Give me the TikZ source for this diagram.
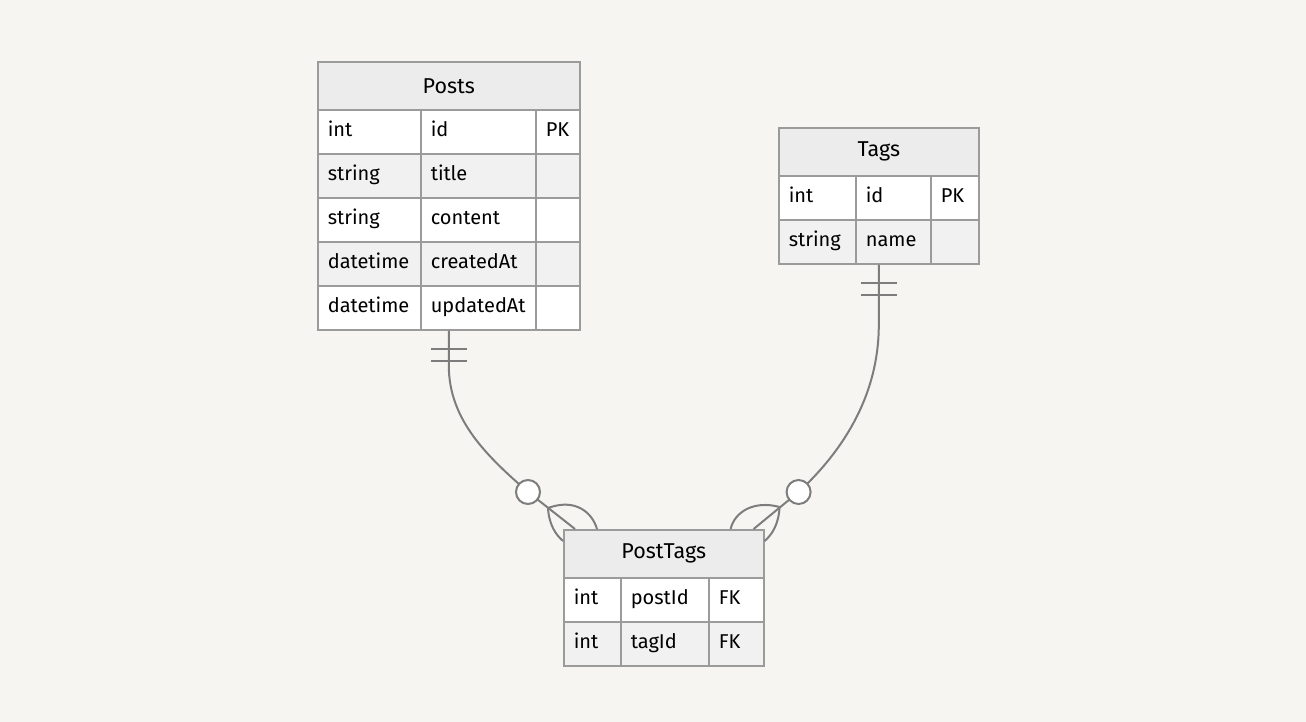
\documentclass[tikz,border=0pt]{standalone}
\usepackage{fontspec}
\setmainfont{Fira Sans}
\usetikzlibrary{calc}
\definecolor{canvas}{HTML}{F6F5F2}
\definecolor{headfill}{HTML}{ECECEC}
\definecolor{oddfill}{HTML}{F1F1F1}
\definecolor{gridline}{HTML}{9B9B9B}
\definecolor{wire}{HTML}{7D7D7D}
\begin{document}
\begin{tikzpicture}[x=1pt, y=-1pt,
  cell/.style={draw=gridline, line width=1.6pt, fill=#1, anchor=north west,
               minimum height=44pt, inner xsep=10pt, inner ysep=0pt, align=left,
               text height=14pt, text depth=4pt, font=\fontsize{20}{24}\selectfont},
  cell/.default=white,
  head/.style={draw=gridline, line width=1.6pt, fill=headfill, anchor=north west,
               minimum height=48pt, inner sep=0pt, font=\fontsize{21.5}{25}\selectfont},
  frame/.style={draw=gridline, line width=1.6pt, anchor=north west, inner sep=0pt},
  rel/.style={draw=wire, line width=2pt},
  ring/.style={draw=wire, line width=2pt, fill=white}
]
  \fill[canvas] (0,0) rectangle (1306,722);

  % Posts
  \node[head, minimum width=262pt] (posts-h) at (317,61) {Posts};
  \foreach \t/\n/\k/\f [count=\i from 0] in {int/id/PK/white, string/title//oddfill,
      string/content//white, datetime/createdAt//oddfill, datetime/updatedAt//white} {
    \node[cell=\f, text width=83pt] (posts-t\i) at (317,109+44*\i) {\t};
    \node[cell=\f, text width=95pt] (posts-n\i) at (420,109+44*\i) {\n};
    \node[cell=\f, text width=24pt] (posts-k\i) at (535,109+44*\i) {\k};
  }
  \node[frame, minimum width=262pt, minimum height=268pt] (posts) at (317,61) {};

  % Tags
  \node[head, minimum width=200pt] (tags-h) at (778,127) {Tags};
  \foreach \t/\n/\k/\f [count=\i from 0] in {int/id/PK/white, string/name//oddfill} {
    \node[cell=\f, text width=57pt] (tags-t\i) at (778,175+44*\i) {\t};
    \node[cell=\f, text width=55pt] (tags-n\i) at (855,175+44*\i) {\n};
    \node[cell=\f, text width=28pt] (tags-k\i) at (930,175+44*\i) {\k};
  }
  \node[frame, minimum width=200pt, minimum height=136pt] (tags) at (778,127) {};

  % PostTags
  \node[head, minimum width=200pt] (ptags-h) at (563,529) {PostTags};
  \foreach \t/\n/\k/\f [count=\i from 0] in {int/postId/FK/white, int/tagId/FK/oddfill} {
    \node[cell=\f, text width=37pt] (ptags-t\i) at (563,577+44*\i) {\t};
    \node[cell=\f, text width=68pt] (ptags-n\i) at (620,577+44*\i) {\n};
    \node[cell=\f, text width=35pt] (ptags-k\i) at (708,577+44*\i) {\k};
  }
  \node[frame, minimum width=200pt, minimum height=136pt] (ptags) at (563,529) {};

  % Posts ||--o{ PostTags
  \coordinate (po-ring) at ($(ptags.north west)+(-35,-37)$);
  \coordinate (po-tip) at ($(ptags.north west)+(12,0)$);
  \coordinate (po-fork) at ($(po-ring)+(20,16)$);
  \draw[rel] (posts.south) -- ++(0,35) .. controls +(0,55) and +(-40,-35) .. (po-ring) -- (po-tip);
  \draw[rel] ($(posts.south)+(-18,18)$) -- +(36,0);
  \draw[rel] ($(posts.south)+(-18,30)$) -- +(36,0);
  \draw[rel] (po-fork) .. controls +(27,-10) and +(-5,-17) .. ($(ptags.north west)+(34,0)$);
  \draw[rel] (po-fork) .. controls +(1,17) and +(-7,-6) .. ($(ptags.north west)+(0,12)$);
  \draw[ring] (po-ring) circle (12pt);

  % Tags ||--o{ PostTags
  \coordinate (tg-ring) at ($(ptags.north east)+(34,-37)$);
  \coordinate (tg-tip) at ($(ptags.north east)+(-11,0)$);
  \coordinate (tg-fork) at ($(tg-ring)+(-19,15)$);
  \draw[rel] (tags.south) -- ++(0,60) .. controls +(0,75) and +(40,-37) .. (tg-ring) -- (tg-tip);
  \draw[rel] ($(tags.south)+(-18,18)$) -- +(36,0);
  \draw[rel] ($(tags.south)+(-18,30)$) -- +(36,0);
  \draw[rel] (tg-fork) .. controls +(-26,-7) and +(4,-17) .. ($(ptags.north east)+(-34,0)$);
  \draw[rel] (tg-fork) .. controls +(-1,18) and +(7,-6) .. ($(ptags.north east)+(0,12)$);
  \draw[ring] (tg-ring) circle (12pt);
\end{tikzpicture}
\end{document}
